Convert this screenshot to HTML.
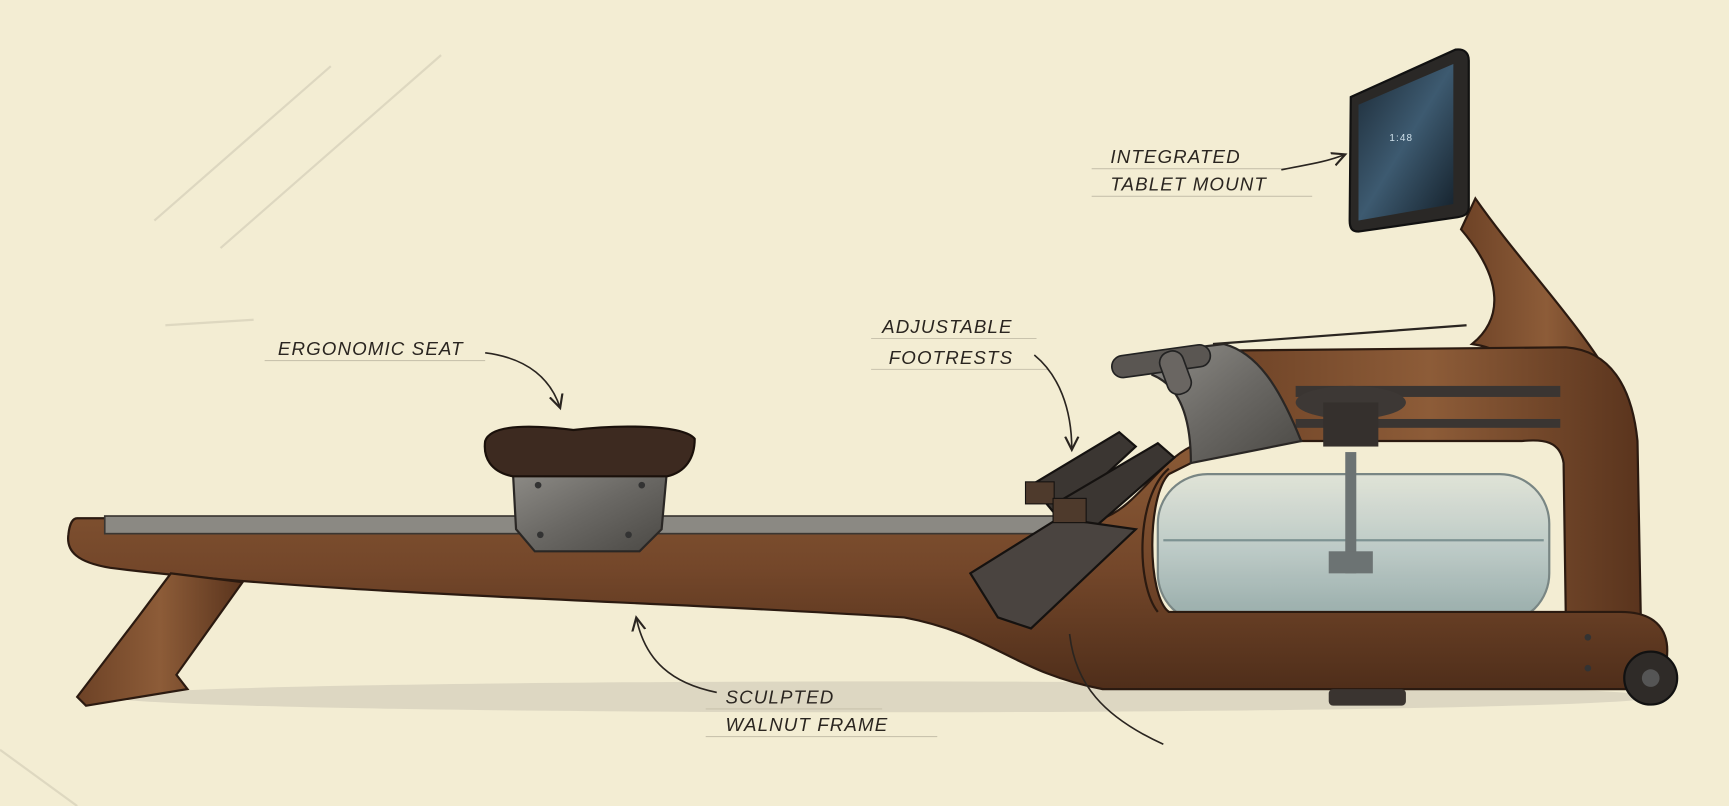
<!DOCTYPE html>
<html><head><meta charset="utf-8"><style>
html,body{margin:0;padding:0;background:#f3edd3;}
svg{display:block;}
text{font-family:"Liberation Sans",sans-serif;font-style:italic;font-size:17px;fill:#2a2520;letter-spacing:1px;}
</style></head><body>
<svg width="1729" height="806" viewBox="0 0 1568 731" preserveAspectRatio="none" xmlns="http://www.w3.org/2000/svg">
<defs>
<linearGradient id="wood" x1="0" y1="0" x2="0" y2="1">
<stop offset="0" stop-color="#8a5a36"/><stop offset="0.5" stop-color="#74472a"/><stop offset="1" stop-color="#4f2e1a"/></linearGradient>
<linearGradient id="woodv" x1="0" y1="0" x2="1" y2="0">
<stop offset="0" stop-color="#6d4226"/><stop offset="0.5" stop-color="#8d5c38"/><stop offset="1" stop-color="#5a341d"/></linearGradient>
<linearGradient id="metal" x1="0" y1="0" x2="1" y2="1">
<stop offset="0" stop-color="#8f8d88"/><stop offset="0.5" stop-color="#6a6864"/><stop offset="1" stop-color="#4a4844"/></linearGradient>
<linearGradient id="water" x1="0" y1="0" x2="0" y2="1">
<stop offset="0" stop-color="#dfe3d8"/><stop offset="0.5" stop-color="#b9c8c6"/><stop offset="1" stop-color="#8fa6a6"/></linearGradient>
<linearGradient id="screen" x1="0" y1="0" x2="1" y2="1">
<stop offset="0" stop-color="#1c2a36"/><stop offset="0.5" stop-color="#3d5a70"/><stop offset="1" stop-color="#14202a"/></linearGradient>
<marker id="ah" markerWidth="10" markerHeight="10" refX="8" refY="5" orient="auto"><path d="M0,1 L8,5 L0,9" fill="none" stroke="#2a2520" stroke-width="1.3"/></marker>
</defs>
<rect width="1568" height="731" fill="#f3edd3"/>
<g stroke="#d8d2bc" stroke-width="2" fill="none" opacity="0.8">
<path d="M140,200 L300,60"/><path d="M200,225 L400,50"/><path d="M150,295 L230,290"/><path d="M0,680 L70,731"/>
</g>
<ellipse cx="800" cy="632" rx="700" ry="14" fill="#ddd7c2"/>
<!-- tower -->
<path d="M1325,208 L1338,180 C1380,240 1435,295 1468,355 L1480,420 L1420,400 C1400,345 1375,318 1335,312 C1362,290 1365,255 1325,208 Z" fill="url(#woodv)" stroke="#2b1a10" stroke-width="2"/>
<path d="M1105,318 L1420,315 C1460,318 1480,350 1485,400 L1488,560 L1420,560 L1418,420 C1415,400 1400,398 1380,400 L1120,400 Z" fill="url(#woodv)" stroke="#2b1a10" stroke-width="2"/>
<rect x="1175" y="350" width="240" height="10" fill="#3a3532"/>
<rect x="1175" y="380" width="240" height="8" fill="#3a3532"/>
<ellipse cx="1225" cy="365" rx="50" ry="15" fill="#3d3835"/>
<rect x="1200" y="365" width="50" height="40" fill="#35302d"/>
<rect x="1050" y="430" width="355" height="135" rx="45" fill="url(#water)" stroke="#6f7e7e" stroke-width="2" opacity="0.92"/>
<line x1="1055" y1="490" x2="1400" y2="490" stroke="#7d9292" stroke-width="2"/>
<rect x="1220" y="410" width="10" height="110" fill="#6c7373"/>
<rect x="1205" y="500" width="40" height="20" fill="#6c7373"/>
<path d="M70,470 L1000,470 C1030,460 1050,420 1080,405 L1110,405 L1060,430 C1040,450 1040,540 1060,555 L1470,555 C1500,555 1512,570 1512,590 C1512,615 1500,625 1470,625 L1000,625 C920,610 900,575 820,560 C600,545 300,540 100,515 C70,510 60,500 62,485 C63,475 66,470 70,470 Z" fill="url(#wood)" stroke="#2b1a10" stroke-width="2"/>
<path d="M1050,555 C1030,530 1030,450 1060,425" fill="none" stroke="#2b1a10" stroke-width="2"/>
<rect x="95" y="468" width="870" height="16" fill="#8b8983" stroke="#3a3632" stroke-width="1.5"/>
<path d="M155,520 L220,528 L160,612 L170,625 L78,640 L70,632 L125,560 Z" fill="url(#woodv)" stroke="#2b1a10" stroke-width="2"/>
<circle cx="1497" cy="615" r="24" fill="#2f2b28" stroke="#111" stroke-width="2"/>
<circle cx="1497" cy="615" r="8" fill="#555"/>
<rect x="1205" y="625" width="70" height="15" rx="4" fill="#3a3430"/>
<circle cx="1440" cy="578" r="3" fill="#333"/><circle cx="1440" cy="606" r="3" fill="#333"/>
<path d="M465,425 L605,425 L600,480 L580,500 L485,500 L468,480 Z" fill="url(#metal)" stroke="#2a2725" stroke-width="2"/>
<path d="M440,400 C445,385 480,385 520,390 C560,385 620,385 630,398 C630,415 622,428 605,432 L465,432 C445,428 438,415 440,400 Z" fill="#3d2a20" stroke="#1a100a" stroke-width="2"/>
<circle cx="488" cy="440" r="3" fill="#333"/><circle cx="582" cy="440" r="3" fill="#333"/>
<circle cx="490" cy="485" r="3" fill="#333"/><circle cx="570" cy="485" r="3" fill="#333"/>
<path d="M1045,320 L1110,312 C1140,320 1160,350 1180,400 L1080,420 C1080,380 1070,350 1045,340 Z" fill="url(#metal)" stroke="#2a2725" stroke-width="2"/>
<rect x="1008" y="318" width="90" height="20" rx="10" fill="#5a5652" stroke="#222" stroke-width="1.5" transform="rotate(-8 1050 328)"/>
<rect x="1055" y="318" width="22" height="40" rx="10" fill="#6a6662" stroke="#222" stroke-width="1.5" transform="rotate(-20 1066 338)"/>
<line x1="1100" y1="312" x2="1330" y2="295" stroke="#2a2520" stroke-width="2"/>
<g fill="#3b3632" stroke="#151210" stroke-width="2">
<path d="M935,440 L1015,392 L1030,405 L960,470 Z"/>
<path d="M960,455 L1050,402 L1065,415 L985,485 Z"/>
<path d="M880,520 L960,470 L1030,480 L935,570 L905,560 Z" fill="#4a4440"/>
</g>
<rect x="930" y="437" width="26" height="20" fill="#4e3a2c" stroke="#151210"/>
<rect x="955" y="452" width="30" height="22" fill="#4e3a2c" stroke="#151210"/>
<path d="M1225,88 L1320,45 C1328,44 1332,48 1332,55 L1332,188 C1332,194 1328,196 1322,197 L1232,210 C1226,210 1224,207 1224,200 Z" fill="#2a2826" stroke="#111" stroke-width="2"/>
<path d="M1232,95 L1318,58 L1318,185 L1232,200 Z" fill="url(#screen)"/>
<text x="1260" y="128" style="font-size:9px;fill:#cfe0ea;font-style:normal">1:48</text>
<g stroke="#c9c3ad" stroke-width="1">
<line x1="990" y1="153" x2="1170" y2="153"/><line x1="990" y1="178" x2="1190" y2="178"/>
<line x1="790" y1="307" x2="940" y2="307"/><line x1="790" y1="335" x2="950" y2="335"/>
<line x1="240" y1="327" x2="440" y2="327"/>
<line x1="640" y1="643" x2="800" y2="643"/><line x1="640" y1="668" x2="850" y2="668"/>
</g>
<text x="1007" y="148">INTEGRATED</text>
<text x="1007" y="173">TABLET MOUNT</text>
<text x="800" y="302">ADJUSTABLE</text>
<text x="806" y="330">FOOTRESTS</text>
<text x="252" y="322">ERGONOMIC SEAT</text>
<text x="658" y="638">SCULPTED</text>
<text x="658" y="663">WALNUT FRAME</text>
<g fill="none" stroke="#2a2520" stroke-width="1.5" marker-end="url(#ah)">
<path d="M1162,154 C1180,150 1200,148 1220,140"/>
<path d="M938,322 C960,340 972,370 972,408"/>
<path d="M440,320 C480,325 500,345 508,370"/>
<path d="M650,628 C610,620 585,600 577,560"/>
</g>
<path d="M1055,675 C1000,650 975,620 970,575" fill="none" stroke="#2a2520" stroke-width="1.5"/>
</svg>
</body></html>
